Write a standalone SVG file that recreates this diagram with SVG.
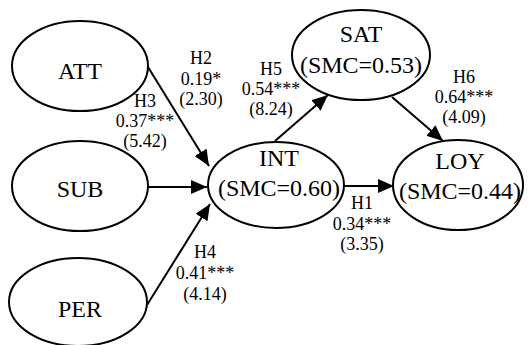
<svg xmlns="http://www.w3.org/2000/svg" width="528" height="345" viewBox="0 0 528 345">
<style>
.node ellipse{fill:#fff;stroke:#000;stroke-width:2}
.big{font-family:"Liberation Serif","Times New Roman",serif;font-size:24px;fill:#000;text-anchor:middle}
.lab{font-family:"Liberation Serif","Times New Roman",serif;font-size:18px;fill:#000;text-anchor:middle}
.edges line{stroke:#000;stroke-width:2;marker-end:url(#ah)}
</style>
<defs>
<marker id="ah" markerUnits="userSpaceOnUse" markerWidth="16" markerHeight="14" refX="16" refY="7" orient="auto" viewBox="0 0 16 14">
<path d="M0,0 L16,7 L0,14 Z" fill="#000"/>
</marker>
</defs>
<rect width="528" height="345" fill="#fff"/>
<g class="edges">
<line x1="148" y1="67" x2="209" y2="166"/>
<line x1="148" y1="187" x2="207" y2="187"/>
<line x1="147" y1="305" x2="210" y2="204"/>
<line x1="275" y1="141" x2="328" y2="95"/>
<line x1="392" y1="97" x2="443" y2="141"/>
<line x1="344" y1="186" x2="394" y2="186"/>
</g>
<g id="ATT" class="node"><ellipse cx="80" cy="66" rx="68" ry="45"/><text class="big" x="80" y="79">ATT</text></g>
<g id="SUB" class="node"><ellipse cx="80" cy="186" rx="68" ry="45"/><text class="big" x="80" y="197">SUB</text></g>
<g id="PER" class="node"><ellipse cx="78" cy="302" rx="69" ry="44"/><text class="big" x="80" y="317">PER</text></g>
<g id="INT" class="node"><ellipse cx="276" cy="185" rx="68" ry="43"/><text class="big" x="279" y="166">INT</text><text class="big" x="279" y="196">(SMC=0.60)</text></g>
<g id="SAT" class="node"><ellipse cx="361" cy="55" rx="69" ry="45"/><text class="big" x="361" y="42">SAT</text><text class="big" x="361" y="73">(SMC=0.53)</text></g>
<g id="LOY" class="node"><ellipse cx="458" cy="185" rx="65" ry="45"/><text class="big" x="460" y="169">LOY</text><text class="big" x="460" y="199">(SMC=0.44)</text></g>
<g id="labels">
<text class="lab" x="201" y="64">H2</text><text class="lab" x="201" y="85">0.19*</text><text class="lab" x="201" y="105">(2.30)</text>
<text class="lab" x="145" y="107">H3</text><text class="lab" x="145" y="127">0.37***</text><text class="lab" x="145" y="147">(5.42)</text>
<text class="lab" x="271" y="75">H5</text><text class="lab" x="271" y="95">0.54***</text><text class="lab" x="271" y="115">(8.24)</text>
<text class="lab" x="464" y="83">H6</text><text class="lab" x="464" y="103">0.64***</text><text class="lab" x="464" y="123">(4.09)</text>
<text class="lab" x="362" y="209">H1</text><text class="lab" x="362" y="230">0.34***</text><text class="lab" x="362" y="250">(3.35)</text>
<text class="lab" x="205" y="258">H4</text><text class="lab" x="205" y="279">0.41***</text><text class="lab" x="205" y="300">(4.14)</text>
</g>
</svg>
